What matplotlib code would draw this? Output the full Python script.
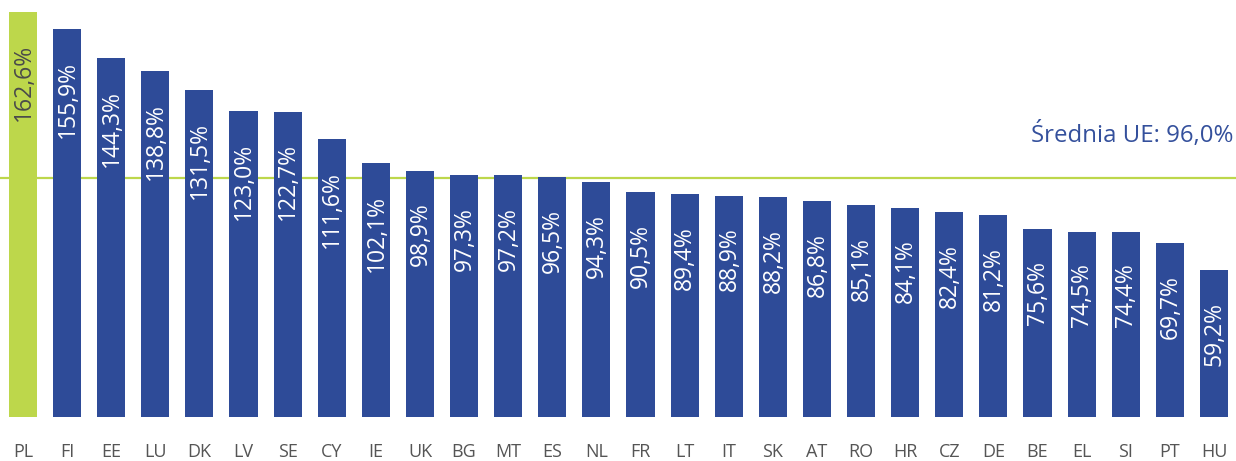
import matplotlib
matplotlib.use('Agg')
import matplotlib.pyplot as plt

plt.rcParams['font.family'] = ['Open Sans', 'DejaVu Sans']

countries = ['PL', 'FI', 'EE', 'LU', 'DK', 'LV', 'SE', 'CY', 'IE', 'UK', 'BG', 'MT', 'ES', 'NL',
             'FR', 'LT', 'IT', 'SK', 'AT', 'RO', 'HR', 'CZ', 'DE', 'BE', 'EL', 'SI', 'PT', 'HU']
values = [162.6, 155.9, 144.3, 138.8, 131.5, 123.0, 122.7, 111.6, 102.1, 98.9, 97.3, 97.2, 96.5, 94.3,
          90.5, 89.4, 88.9, 88.2, 86.8, 85.1, 84.1, 82.4, 81.2, 75.6, 74.5, 74.4, 69.7, 59.2]
eu_avg = 96.0
avg_label = 'Średnia UE: 96,0%'

green = '#bdd74b'
blue = '#2e4b98'

fig = plt.figure(figsize=(12.36, 4.61), dpi=100)
ax = fig.add_axes([0, 44 / 461, 1, 417 / 461])

x = list(range(len(countries)))
colors = [green if c == 'PL' else blue for c in countries]
ax.bar(x, values, width=0.635, color=colors, zorder=2)
ax.axhline(eu_avg, color=green, linewidth=1.6, zorder=1)

for xi, v, c in zip(x, values, countries):
    txt = ('%.1f%%' % v).replace('.', ',')
    ax.annotate(txt, (xi, v), xytext=(0.5, -23), textcoords='offset points',
                rotation=90, ha='center', va='top', fontsize=16.5,
                color='#4a4a4a' if c == 'PL' else 'white', zorder=3)

ax.text(27.45, eu_avg + 12, avg_label, ha='right', va='bottom', fontsize=17.3, color='#34509c')

ax.set_xlim(-0.52, 27.5)
ax.set_ylim(0, 167.5)
ax.set_xticks(x)
ax.set_xticklabels(countries, fontsize=13, color='#555555')
ax.tick_params(axis='x', length=0, pad=19)
ax.set_yticks([])
for s in ax.spines.values():
    s.set_visible(False)

fig.savefig('out.png', dpi=100)
